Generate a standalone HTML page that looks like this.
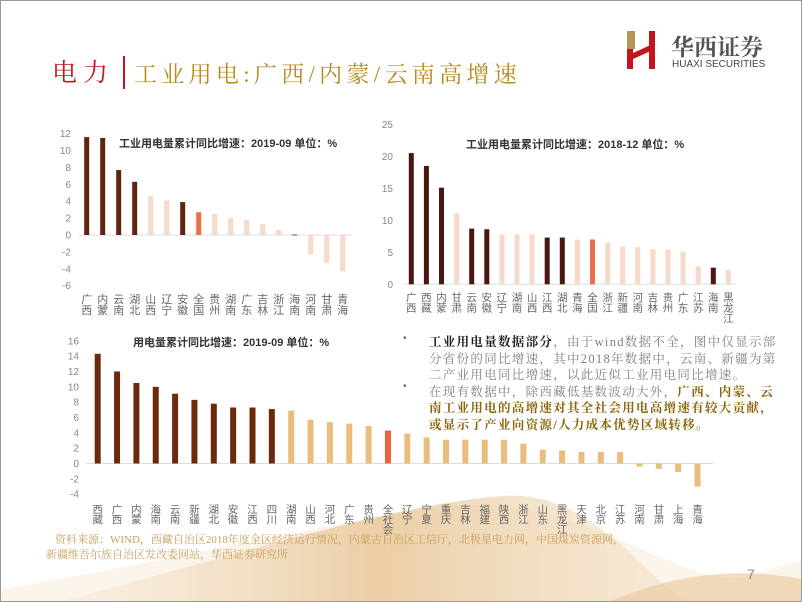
<!DOCTYPE html>
<html><head><meta charset="utf-8">
<style>
html,body{margin:0;padding:0;background:#fff}
#page{position:relative;width:800px;height:600px;border:1px solid #999;overflow:hidden;background:#fff;font-family:"Liberation Sans","Noto Sans CJK SC",sans-serif}
.abs{position:absolute;white-space:nowrap}
.txt{font-family:"Liberation Serif","Noto Serif CJK SC",serif;font-size:12.5px;color:#808080;letter-spacing:1.3px}
.b{color:#222;font-weight:bold}
.g{color:#8a6608;font-weight:bold}
</style></head>
<body>
<div id="page">
<svg class="abs" style="left:0;top:0" width="800" height="600">
 <defs>
  <linearGradient id="wg" x1="0" y1="0" x2="1" y2="0">
   <stop offset="0" stop-color="#f5e4cc" stop-opacity="0.3"/>
   <stop offset="0.5" stop-color="#e0b677" stop-opacity="0.6"/>
   <stop offset="1" stop-color="#f2dcbc" stop-opacity="0.4"/>
  </linearGradient>
 </defs>
 <path d="M0,600 L0,588 C150,565 300,525 450,505 C550,495 620,545 700,572 C740,586 770,565 800,560 L800,600 Z" fill="#f9efe2" opacity="0.7"/>
 <path d="M60,600 C200,565 380,505 500,495 C560,491 600,525 640,562 C660,582 680,598 690,600 Z" fill="url(#wg)"/>
 <path d="M610,600 C670,575 730,565 800,578 L800,600 Z" fill="#e9c796" opacity="0.6"/>
</svg>

<div class="abs" style="left:51px;top:52px;font-family:'Liberation Serif','Noto Serif CJK SC',serif;font-size:25px;letter-spacing:6px;color:#c0161c">电力</div>
<div class="abs" style="left:122px;top:55px;width:2px;height:33px;background:#c0161c"></div>
<div class="abs" style="left:133px;top:55px;font-family:'Liberation Serif','Noto Serif CJK SC',serif;font-size:23px;letter-spacing:4.3px;color:#b98a1e">工业用电:广西/内蒙/云南高增速</div>

<svg class="abs" style="left:624px;top:28px" width="40" height="42">
 <rect x="2" y="2" width="6" height="38" fill="#c0161c"/>
 <rect x="2" y="2" width="8" height="18" fill="#b89556"/>
 <polygon points="8,24 30,14 30,20 8,30" fill="#c0161c"/>
 <rect x="24" y="2" width="6" height="38" fill="#c0161c"/>
</svg>
<div class="abs" style="left:670px;top:28px;font-family:'Liberation Serif','Noto Serif CJK SC',serif;font-size:23px;font-weight:bold;color:#555">华西证券</div>
<div class="abs" style="left:671px;top:58px;font-size:10px;color:#444">HUAXI SECURITIES</div>

<svg id="charts" class="abs" style="left:0;top:0" width="800" height="600"></svg>

<div class="abs" style="left:402px;top:332px;font-size:10px;color:#666">•</div>
<div class="abs" style="left:402px;top:380px;font-size:10px;color:#666">•</div>
<div class="abs txt" style="left:428px;top:333px;line-height:16.5px">
<span class="b">工业用电量数据部分</span>，由于wind数据不全，图中仅显示部<br>
分省份的同比增速，其中2018年数据中，云南、新疆为第<br>
二产业用电同比增速，以此近似工业用电同比增速。<br>
在现有数据中，除西藏低基数波动大外，<span class="g">广西、内蒙、云</span><br>
<span class="g">南工业用电的高增速对其全社会用电高增速有较大贡献，</span><br>
<span class="g">或显示了产业向资源/人力成本优势区域转移。</span>
</div>

<div class="abs" style="left:54px;top:532px;font-family:'Liberation Serif','Noto Serif CJK SC',serif;font-size:11px;color:#c9a05c;line-height:15px">资料来源：WIND，西藏自治区2018年度全区经济运行情况，内蒙古自治区工信厅，北极星电力网，中国煤炭资源网，<br><span style="margin-left:-9px">新疆维吾尔族自治区发改委网站，华西证券研究所</span></div>
<div class="abs" style="left:746px;top:565px;font-size:14px;color:#888">7</div>

<script>
// Chart 1: industrial electricity 2019-09
const c1Cats=["广西","内蒙","云南","湖北","山西","辽宁","安徽","全国","贵州","湖南","广东","吉林","浙江","海南","河南","甘肃","青海"];
const c1Vals=[11.6,11.5,7.7,6.3,4.6,4.1,3.9,2.7,2.5,2.0,1.8,1.3,0.6,0.05,-2.3,-3.3,-4.3];
const c1Kind=["d","d","d","d","l","l","d","n","l","l","l","l","l","d","l","l","l"];
const c1Ticks=[12,10,8,6,4,2,0,-2,-4,-6];
// Chart 2: industrial electricity 2018-12
const c2Cats=["广西","西藏","内蒙","甘肃","云南","安徽","辽宁","湖南","山西","江西","湖北","青海","全国","浙江","新疆","河南","吉林","贵州","广东","江苏","海南","黑龙江"];
const c2Vals=[20.5,18.5,15.1,11.1,8.7,8.6,7.8,7.8,7.8,7.3,7.3,7.0,7.0,6.5,5.9,5.8,5.5,5.4,5.1,2.8,2.6,2.2];
const c2Kind=["d","d","d","l","d","d","l","l","l","d","d","l","n","l","l","l","l","l","l","l","d","l"];
const c2Ticks=[25,20,15,10,5,0];
// Chart 3: total electricity 2019-09
const c3Cats=["西藏","广西","内蒙","海南","云南","新疆","湖北","安徽","江西","四川","湖南","山西","河北","广东","贵州","全社会","辽宁","宁夏","重庆","吉林","福建","陕西","浙江","山东","黑龙江","天津","北京","江苏","河南","甘肃","上海","青海"];
const c3Vals=[14.3,12.0,10.5,10.0,9.1,8.3,7.8,7.3,7.3,7.1,6.9,5.7,5.4,5.2,4.9,4.3,3.9,3.4,3.1,3.1,3.1,3.1,2.6,1.8,1.7,1.5,1.5,1.5,-0.4,-0.7,-1.1,-3.0];
const c3Kind=["d","d","d","d","d","d","d","d","d","d","l","l","l","l","l","n","l","l","l","l","l","l","l","l","l","l","l","l","l","l","l","l"];
const c3Ticks=[16,14,12,10,8,6,4,2,0,-2,-4];

const svg=document.getElementById('charts');
const NS="http://www.w3.org/2000/svg";
function mk(tag,attrs,parent){const e=document.createElementNS(NS,tag);for(const k in attrs)e.setAttribute(k,attrs[k]);(parent||svg).appendChild(e);return e;}

function drawChart(o){
  const g=mk('g',{});
  
  
  const y=v=>o.zeroY-v*o.unit;
  const x=i=>o.x0+i*o.step;
  o.ticks.forEach(t=>{
    const tl=mk('text',{x:o.tickX,y:y(t)+3.5,'text-anchor':'end','font-size':10,fill:'#888'},g);
    tl.textContent=t;
    
    
  });
  const base=mk('line',{x1:o.axisL,x2:o.axisR,y1:o.zeroY,y2:o.zeroY,stroke:'#ddd','stroke-width':1},g);
  
  
  o.vals.forEach((v,i)=>{
    const col=o.kind[i]==='d'?o.dark:(o.kind[i]==='n'?o.nat:o.light);
    const r=mk('rect',{x:x(i)-o.bw/2,y:Math.min(y(v),o.zeroY),width:o.bw,height:Math.max(Math.abs(v*o.unit),0.8),fill:col},g);
    
    
  });
  o.cats.forEach((c,i)=>{
    const t=mk('text',{x:x(i),'text-anchor':'middle','font-size':o.lfs,fill:'#666'},g);
    
    
    [...c].forEach((ch,j)=>{const s=mk('tspan',{x:x(i),y:o.labY+j*o.lh},t);s.textContent=ch;});
  });
  const ti=mk('text',{x:o.titleX,y:o.titleY,'font-size':11,'font-weight':'bold',fill:'#333'},g);
  ti.textContent=o.title;
  
  
}
drawChart({name:'chart-industrial-2019-09',cats:c1Cats,vals:c1Vals,kind:c1Kind,ticks:c1Ticks,zeroY:234,unit:8.44,x0:85.7,step:16,bw:5,tickX:70,axisL:78,axisR:350,dark:'#5e2410',light:'#f8d8c8',nat:'#e8704a',labY:302,lh:11,lfs:11,title:'工业用电量累计同比增速：2019-09 单位：%',titleX:118,titleY:146});
drawChart({name:'chart-industrial-2018-12',cats:c2Cats,vals:c2Vals,kind:c2Kind,ticks:c2Ticks,zeroY:283.3,unit:6.4,x0:410.3,step:15.1,bw:5,tickX:392,axisL:402,axisR:735,dark:'#4a160e',light:'#f8d8c8',nat:'#e8704a',labY:300,lh:10.5,lfs:10.5,title:'工业用电量累计同比增速：2018-12 单位：%',titleX:465,titleY:147});
drawChart({name:'chart-total-2019-09',cats:c3Cats,vals:c3Vals,kind:c3Kind,ticks:c3Ticks,zeroY:462.5,unit:7.67,x0:96.7,step:19.35,bw:6,tickX:78,axisL:85,axisR:712,dark:'#6b2a0e',light:'#e9be7c',nat:'#e8643a',labY:512,lh:10,lfs:10.5,title:'用电量累计同比增速：2019-09 单位：%',titleX:132,titleY:345});
</script>
</div>
</body></html>
